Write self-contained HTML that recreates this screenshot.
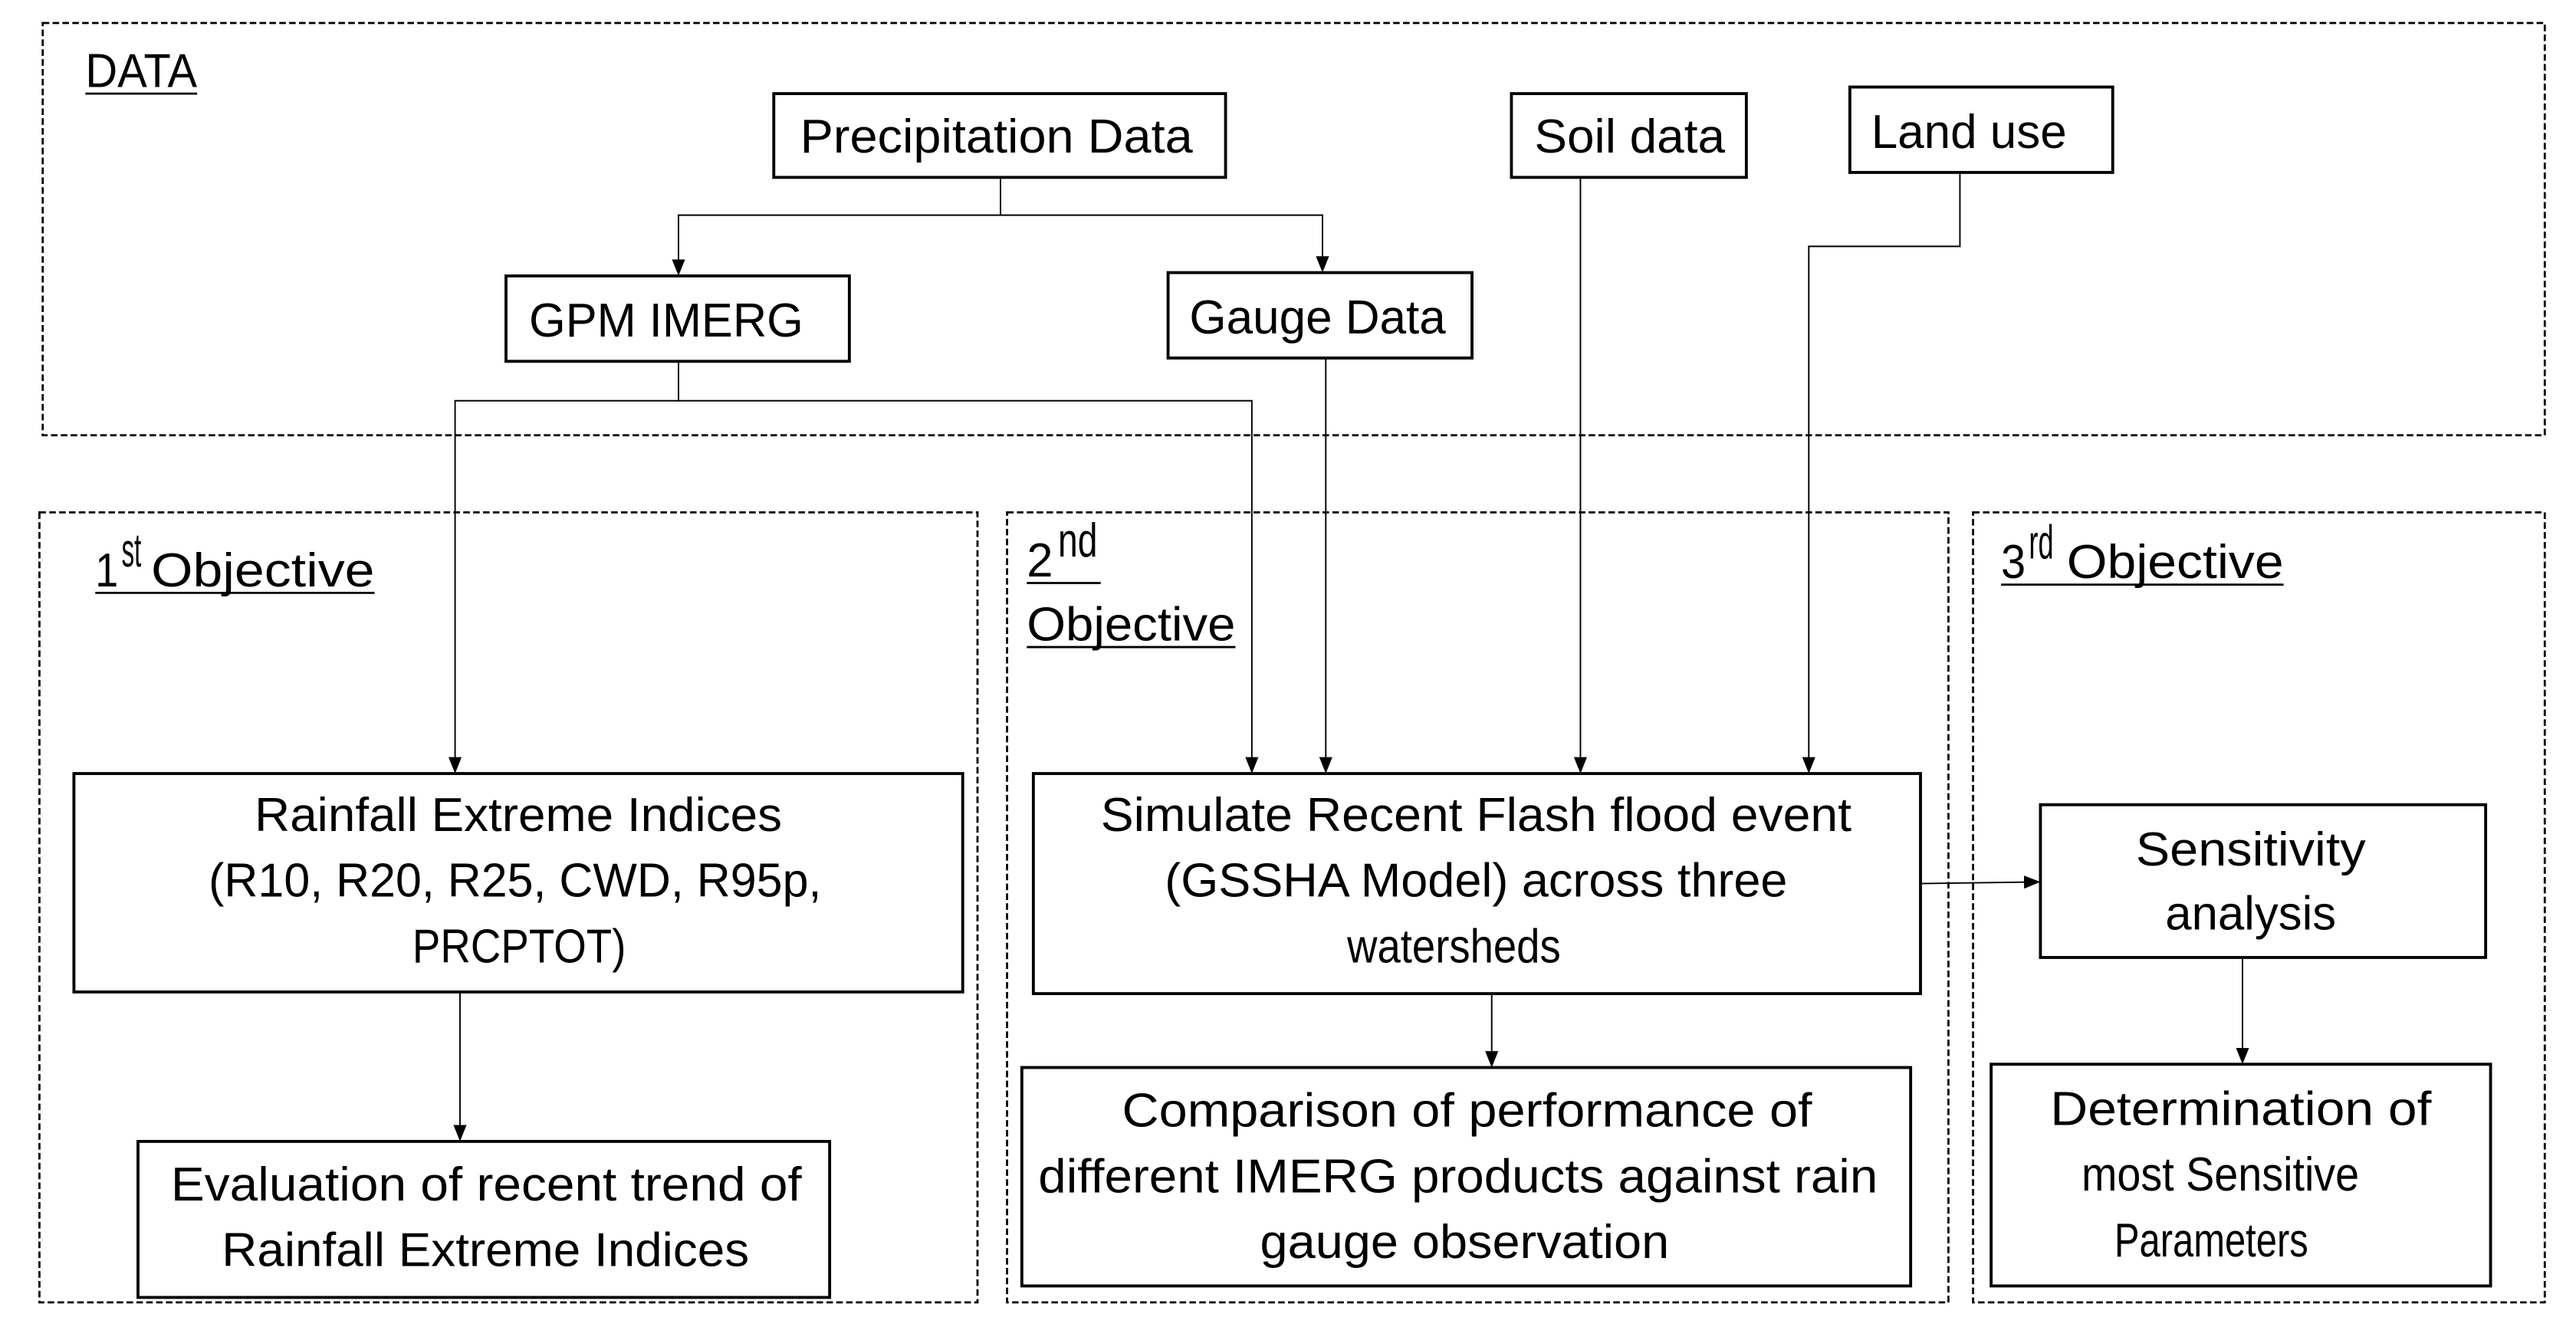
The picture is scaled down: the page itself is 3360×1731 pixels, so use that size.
<!DOCTYPE html>
<html><head><meta charset="utf-8"><style>
html,body{margin:0;padding:0;background:#fff;}
svg{display:block;}
text{font-family:"Liberation Sans",sans-serif;font-size:29px;fill:#000;}
</style></head><body>
<svg width="3360" height="1731" viewBox="0 0 1568 808" preserveAspectRatio="none" xmlns="http://www.w3.org/2000/svg">
<defs><marker id="a" markerWidth="10" markerHeight="12" refX="9" refY="5" orient="auto" markerUnits="userSpaceOnUse"><path d="M0,1 L10,5 L0,9 z" fill="#000"/></marker></defs>
<g fill="none" stroke="#000" stroke-width="1.3" stroke-dasharray="4,2">
<rect x="26" y="14" width="1523" height="251"/>
<rect x="24" y="312" width="571" height="481"/>
<rect x="613" y="312" width="573" height="481"/>
<rect x="1201" y="312" width="348" height="481"/>
</g>
<g fill="#fff" stroke="#000" stroke-width="1.8">
<rect x="471" y="57" width="275" height="51"/>
<rect x="920" y="57" width="143" height="51"/>
<rect x="1126" y="53" width="160" height="52"/>
<rect x="308" y="168" width="209" height="52"/>
<rect x="711" y="166" width="185" height="52"/>
<rect x="45" y="471" width="541" height="133"/>
<rect x="84" y="695" width="421" height="95"/>
<rect x="629" y="471" width="540" height="134"/>
<rect x="622" y="650" width="541" height="133"/>
<rect x="1242" y="490" width="271" height="93"/>
<rect x="1212" y="648" width="304" height="135"/>
</g>
<g fill="none" stroke="#000" stroke-width="0.9">
<polyline points="609,108 609,131 413,131 413,167" marker-end="url(#a)"/>
<polyline points="609,131 805,131 805,165" marker-end="url(#a)"/>
<polyline points="413,220 413,244 277,244 277,470" marker-end="url(#a)"/>
<polyline points="413,244 762,244 762,470" marker-end="url(#a)"/>
<polyline points="807,218 807,470" marker-end="url(#a)"/>
<polyline points="962,108 962,470" marker-end="url(#a)"/>
<polyline points="1193,105 1193,150 1101,150 1101,470" marker-end="url(#a)"/>
<polyline points="280,604 280,694" marker-end="url(#a)"/>
<polyline points="908,605 908,649" marker-end="url(#a)"/>
<polyline points="1169,538 1241,537" marker-end="url(#a)"/>
<polyline points="1365,583 1365,647" marker-end="url(#a)"/>
</g>
<text x="52" y="53" textLength="68" lengthAdjust="spacingAndGlyphs">DATA</text>
<line x1="52" y1="57" x2="120" y2="57" stroke="#000" stroke-width="1.3"/>

<text x="58" y="357" textLength="14" lengthAdjust="spacingAndGlyphs">1</text>
<text x="74" y="345" font-size="15" textLength="12" lengthAdjust="spacingAndGlyphs">st</text>
<text x="92" y="357" textLength="136" lengthAdjust="spacingAndGlyphs">Objective</text>
<line x1="58" y1="361" x2="228" y2="361" stroke="#000" stroke-width="1.3"/>

<text x="625" y="351" textLength="16" lengthAdjust="spacingAndGlyphs">2</text>
<text x="644" y="339" font-size="15" textLength="24" lengthAdjust="spacingAndGlyphs">nd</text>
<line x1="625" y1="355" x2="670" y2="355" stroke="#000" stroke-width="1.3"/>
<text x="625" y="390" textLength="127" lengthAdjust="spacingAndGlyphs">Objective</text>
<line x1="625" y1="394" x2="752" y2="394" stroke="#000" stroke-width="1.3"/>

<text x="1218" y="352" textLength="15" lengthAdjust="spacingAndGlyphs">3</text>
<text x="1235" y="340" font-size="15" textLength="15" lengthAdjust="spacingAndGlyphs">rd</text>
<text x="1258" y="352" textLength="132" lengthAdjust="spacingAndGlyphs">Objective</text>
<line x1="1218" y1="356" x2="1390" y2="356" stroke="#000" stroke-width="1.3"/>

<text x="487" y="93" textLength="239" lengthAdjust="spacingAndGlyphs">Precipitation Data</text>
<text x="934" y="93" textLength="116" lengthAdjust="spacingAndGlyphs">Soil data</text>
<text x="1139" y="90" textLength="119" lengthAdjust="spacingAndGlyphs">Land use</text>
<text x="322" y="205" textLength="167" lengthAdjust="spacingAndGlyphs">GPM IMERG</text>
<text x="724" y="203" textLength="156" lengthAdjust="spacingAndGlyphs">Gauge Data</text>
<text x="155" y="506" textLength="321" lengthAdjust="spacingAndGlyphs">Rainfall Extreme Indices</text>
<text x="127" y="546" textLength="373" lengthAdjust="spacingAndGlyphs">(R10, R20,  R25, CWD, R95p,</text>
<text x="251" y="586" textLength="130" lengthAdjust="spacingAndGlyphs">PRCPTOT)</text>
<text x="670" y="506" textLength="457" lengthAdjust="spacingAndGlyphs">Simulate Recent Flash flood event</text>
<text x="709" y="546" textLength="379" lengthAdjust="spacingAndGlyphs">(GSSHA Model) across three</text>
<text x="820" y="586" textLength="130" lengthAdjust="spacingAndGlyphs">watersheds</text>
<text x="104" y="731" textLength="384" lengthAdjust="spacingAndGlyphs">Evaluation of recent trend of</text>
<text x="135" y="771" textLength="321" lengthAdjust="spacingAndGlyphs">Rainfall Extreme Indices</text>
<text x="683" y="686" textLength="420" lengthAdjust="spacingAndGlyphs">Comparison of  performance of</text>
<text x="632" y="726" textLength="511" lengthAdjust="spacingAndGlyphs">different IMERG products against rain</text>
<text x="767" y="766" textLength="249" lengthAdjust="spacingAndGlyphs">gauge observation</text>
<text x="1300" y="527" textLength="140" lengthAdjust="spacingAndGlyphs">Sensitivity</text>
<text x="1318" y="566" textLength="104" lengthAdjust="spacingAndGlyphs">analysis</text>
<text x="1248" y="685" textLength="232" lengthAdjust="spacingAndGlyphs">Determination of</text>
<text x="1267" y="725" textLength="169" lengthAdjust="spacingAndGlyphs">most Sensitive</text>
<text x="1287" y="765" textLength="118" lengthAdjust="spacingAndGlyphs">Parameters</text>
</svg>
</body></html>
